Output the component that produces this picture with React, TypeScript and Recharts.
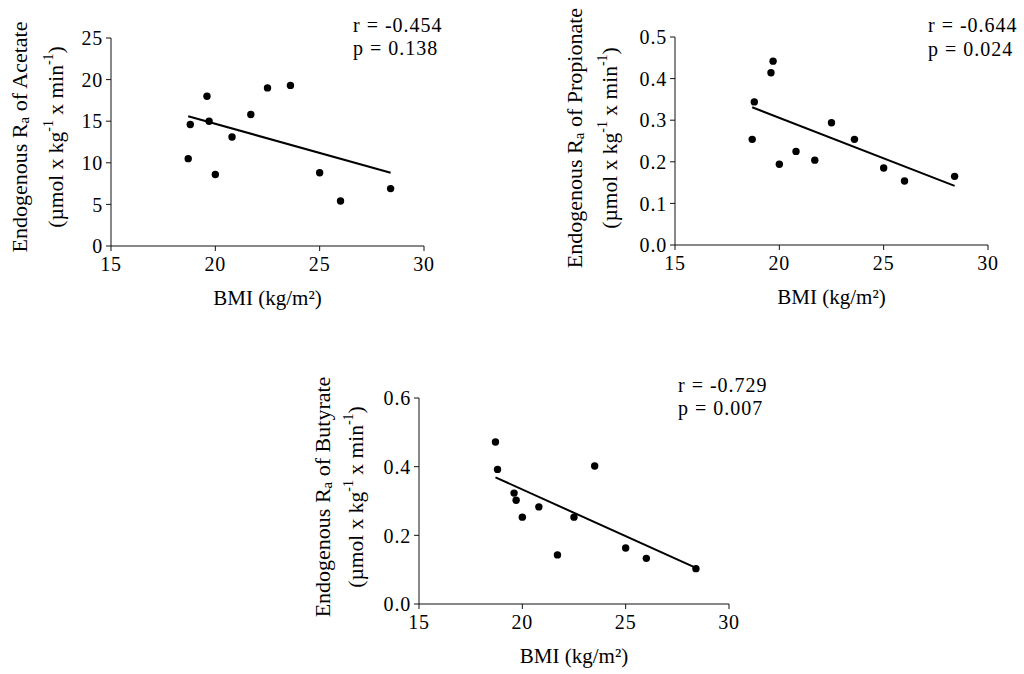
import React from "react";
import { ScatterChart, Scatter, XAxis, YAxis, ReferenceLine, Label } from "recharts";

// BMI range of the fitted line (same subjects in every panel)
const FIT_BMI = [18.7, 28.4];
const BMI_TICKS = [15, 20, 25, 30];

const ACETATE_BMI = [18.7, 18.8, 19.6, 19.7, 20.0, 20.8, 21.7, 22.5, 23.6, 25.0, 26.0, 28.4];
const ACETATE_RA = [10.5, 14.6, 18.0, 15.0, 8.6, 13.1, 15.8, 19.0, 19.3, 8.8, 5.4, 6.9];
const ACETATE_FIT = [15.6, 8.8];
const ACETATE_TICKS = [0, 5, 10, 15, 20, 25];

const PROPIONATE_BMI = [18.8, 18.7, 19.6, 19.7, 20.0, 20.8, 21.7, 22.5, 23.6, 25.0, 26.0, 28.4];
const PROPIONATE_RA = [0.344, 0.254, 0.414, 0.442, 0.194, 0.225, 0.204, 0.294, 0.254, 0.185, 0.154, 0.165];
const PROPIONATE_FIT = [0.331, 0.142];
const PROPIONATE_TICKS = [0, 0.1, 0.2, 0.3, 0.4, 0.5];

const BUTYRATE_BMI = [18.7, 18.8, 19.6, 19.7, 20.0, 20.8, 21.7, 22.5, 23.5, 25.0, 26.0, 28.4];
const BUTYRATE_RA = [0.472, 0.392, 0.323, 0.302, 0.253, 0.283, 0.143, 0.253, 0.402, 0.163, 0.133, 0.103];
const BUTYRATE_FIT = [0.369, 0.105];
const BUTYRATE_TICKS = [0, 0.2, 0.4, 0.6];

const FONT = "Liberation Serif, Times New Roman, serif";
const FS = 20;
const W = 500;
const H = 320;
const Y_W = 100;
const X_H = 60;

const txt = (size: number, extra: any = {}) => ({ fontFamily: FONT, fontSize: size, fill: "#000", ...extra });

const dot = (props: any) => <circle cx={props.cx} cy={props.cy} r={3.7} fill="#000" />;

const XTick = (props: any) => (
  <text x={props.x} y={props.y} dy="0.71em" textAnchor="middle" style={txt(FS, { letterSpacing: 0.8 })}>
    {props.payload.value}
  </text>
);

function Panel({ left, top, plot, xs, ys, fit, ticks, decimals, acid, r, p, yLab, stats }: any) {
  const data = xs.map((x: number, i: number) => ({ x, y: ys[i] }));
  const margin = { top: plot.t, right: W - plot.r, left: plot.l - Y_W, bottom: H - plot.b - X_H };
  const cx = (plot.l + plot.r) / 2;

  const YTick = (props: any) => (
    <text x={props.x} y={props.y} dy="0.36em" textAnchor="end" style={txt(FS, { letterSpacing: 0.8 })}>
      {Number(props.payload.value).toFixed(decimals)}
    </text>
  );

  const yTitle = () => (
    <g>
      <text
        transform={`rotate(-90, ${yLab.x1}, ${yLab.cy})`}
        x={yLab.x1}
        y={yLab.cy}
        textAnchor="middle"
        dominantBaseline="central"
        style={txt(22)}
      >
        Endogenous R<tspan dy={5} style={{ fontSize: 15 }}>a</tspan>
        <tspan dy={-5}> of {acid}</tspan>
      </text>
      <text
        transform={`rotate(-90, ${yLab.x2}, ${yLab.cy})`}
        x={yLab.x2}
        y={yLab.cy}
        textAnchor="middle"
        dominantBaseline="central"
        style={txt(21.5)}
      >
        (µmol x kg<tspan dy={-8} style={{ fontSize: 14 }}>-1</tspan>
        <tspan dy={8}> x min</tspan>
        <tspan dy={-8} style={{ fontSize: 14 }}>-1</tspan>
        <tspan dy={8}>)</tspan>
      </text>
    </g>
  );

  const xTitle = () => (
    <g>
      <text x={cx} y={plot.b + 59} textAnchor="middle" style={txt(FS + 1)}>
        BMI (kg/m²)
      </text>
      <text x={stats.x} y={stats.y1} style={txt(FS, { letterSpacing: 1 })}>
        r = {r}
      </text>
      <text x={stats.x} y={stats.y2} style={txt(FS, { letterSpacing: 1 })}>
        p = {p}
      </text>
    </g>
  );

  return (
    <div style={{ position: "absolute", left, top, width: W, height: H }}>
      <ScatterChart width={W} height={H} margin={margin}>
        <XAxis
          type="number"
          dataKey="x"
          domain={[15, 30]}
          ticks={BMI_TICKS}
          height={X_H}
          tickSize={5}
          tickMargin={6}
          stroke="#111"
          tick={XTick}
        >
          <Label content={xTitle} />
        </XAxis>
        <YAxis
          type="number"
          dataKey="y"
          domain={[ticks[0], ticks[ticks.length - 1]]}
          ticks={ticks}
          width={Y_W}
          tickSize={5}
          tickMargin={3}
          stroke="#111"
          tick={YTick}
        >
          <Label content={yTitle} />
        </YAxis>
        <ReferenceLine
          segment={[
            { x: FIT_BMI[0], y: fit[0] },
            { x: FIT_BMI[1], y: fit[1] },
          ]}
          stroke="#000"
          strokeWidth={2}
          ifOverflow="visible"
        />
        <Scatter data={data} shape={dot} isAnimationActive={false} />
      </ScatterChart>
    </div>
  );
}

export default function App() {
  return (
    <div style={{ position: "absolute", left: 0, top: 0, width: 1024, height: 674, background: "#fff", overflow: "hidden" }}>
      <Panel
        left={0}
        top={0}
        plot={{ l: 111, t: 38, r: 424, b: 246 }}
        xs={ACETATE_BMI}
        ys={ACETATE_RA}
        fit={ACETATE_FIT}
        ticks={ACETATE_TICKS}
        decimals={0}
        acid="Acetate"
        r="-0.454"
        p="0.138"
        yLab={{ x1: 19, x2: 56, cy: 137 }}
        stats={{ x: 353, y1: 32, y2: 55 }}
      />
      <Panel
        left={560}
        top={0}
        plot={{ l: 115, t: 37, r: 428, b: 245 }}
        xs={PROPIONATE_BMI}
        ys={PROPIONATE_RA}
        fit={PROPIONATE_FIT}
        ticks={PROPIONATE_TICKS}
        decimals={1}
        acid="Propionate"
        r="-0.644"
        p="0.024"
        yLab={{ x1: 14, x2: 50, cy: 138 }}
        stats={{ x: 368, y1: 32, y2: 56 }}
      />
      <Panel
        left={300}
        top={360}
        plot={{ l: 119, t: 38, r: 429, b: 244 }}
        xs={BUTYRATE_BMI}
        ys={BUTYRATE_RA}
        fit={BUTYRATE_FIT}
        ticks={BUTYRATE_TICKS}
        decimals={1}
        acid="Butyrate"
        r="-0.729"
        p="0.007"
        yLab={{ x1: 22, x2: 56, cy: 137 }}
        stats={{ x: 378, y1: 32, y2: 55 }}
      />
    </div>
  );
}
